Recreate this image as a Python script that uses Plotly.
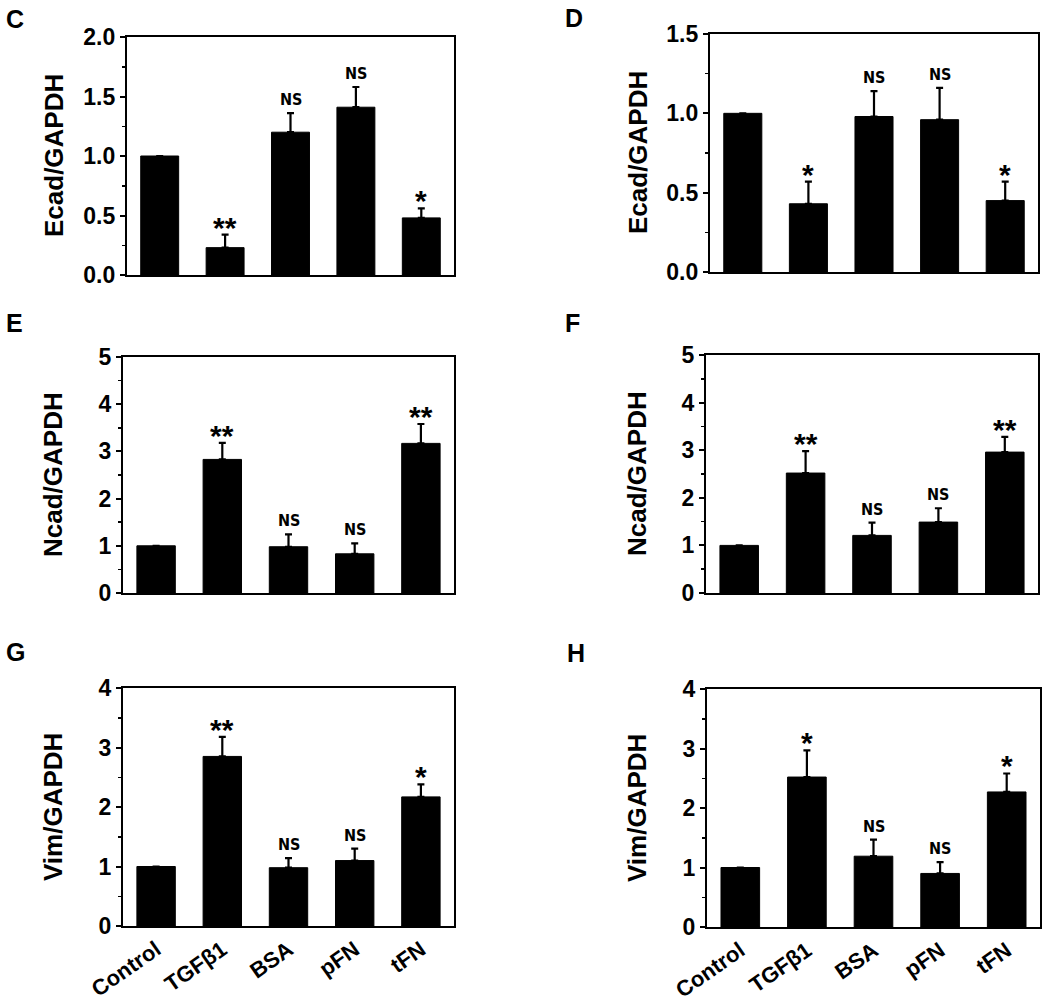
import plotly.graph_objects as go

W, H = 1050, 1003

categories = ["Control", "TGFβ1", "BSA", "pFN", "tFN"]

# Panel C: Ecad/GAPDH
c_vals = [1.00, 0.23, 1.20, 1.41, 0.48]
c_err = [0.00, 0.11, 0.16, 0.17, 0.08]
c_sig = ["", "**", "NS", "NS", "*"]
# Panel D: Ecad/GAPDH
d_vals = [1.00, 0.43, 0.98, 0.96, 0.45]
d_err = [0.00, 0.14, 0.16, 0.20, 0.12]
d_sig = ["", "*", "NS", "NS", "*"]
# Panel E: Ncad/GAPDH
e_vals = [1.00, 2.83, 0.98, 0.83, 3.17]
e_err = [0.00, 0.35, 0.26, 0.22, 0.41]
e_sig = ["", "**", "NS", "NS", "**"]
# Panel F: Ncad/GAPDH
f_vals = [1.00, 2.52, 1.21, 1.49, 2.96]
f_err = [0.00, 0.46, 0.27, 0.29, 0.32]
f_sig = ["", "**", "NS", "NS", "**"]
# Panel G: Vim/GAPDH
g_vals = [1.00, 2.85, 0.98, 1.10, 2.17]
g_err = [0.00, 0.33, 0.16, 0.20, 0.21]
g_sig = ["", "**", "NS", "NS", "*"]
# Panel H: Vim/GAPDH
h_vals = [1.00, 2.52, 1.19, 0.90, 2.27]
h_err = [0.00, 0.45, 0.28, 0.19, 0.31]
h_sig = ["", "*", "NS", "NS", "*"]

panels = [
    dict(letter="C", vals=c_vals, err=c_err, sig=c_sig, title="Ecad/GAPDH",
         ymax=2.0, dtick=0.5, minor=0.25, fmt=".1f",
         box=(127, 454, 37, 275), letter_pos=(4, 3), title_x=54, xlabels=False),
    dict(letter="D", vals=d_vals, err=d_err, sig=d_sig, title="Ecad/GAPDH",
         ymax=1.5, dtick=0.5, minor=0.25, fmt=".1f",
         box=(710, 1038, 34, 272), letter_pos=(563, 2), title_x=638, xlabels=False),
    dict(letter="E", vals=e_vals, err=e_err, sig=e_sig, title="Ncad/GAPDH",
         ymax=5, dtick=1, minor=0.5, fmt="d",
         box=(123, 454, 357, 593), letter_pos=(4, 307), title_x=53, xlabels=False),
    dict(letter="F", vals=f_vals, err=f_err, sig=f_sig, title="Ncad/GAPDH",
         ymax=5, dtick=1, minor=0.5, fmt="d",
         box=(706, 1038, 355, 593), letter_pos=(563, 307), title_x=637, xlabels=False),
    dict(letter="G", vals=g_vals, err=g_err, sig=g_sig, title="Vim/GAPDH",
         ymax=4, dtick=1, minor=0.5, fmt="d",
         box=(123, 454, 688, 926), letter_pos=(4, 636), title_x=53, xlabels=True),
    dict(letter="H", vals=h_vals, err=h_err, sig=h_sig, title="Vim/GAPDH",
         ymax=4, dtick=1, minor=0.5, fmt="d",
         box=(707, 1040, 689, 927), letter_pos=(565, 637), title_x=637, xlabels=True),
]

FONT = "Liberation Sans, Arial, sans-serif"

fig = go.Figure()
annotations = []
layout_axes = {}

for i, p in enumerate(panels):
    n = i + 1
    xa = "x" if n == 1 else f"x{n}"
    ya = "y" if n == 1 else f"y{n}"
    x0, x1, y0, y1 = p["box"]
    fig.add_trace(go.Bar(
        x=categories, y=p["vals"], xaxis=xa, yaxis=ya,
        marker=dict(color="black", line=dict(color="black", width=1)),
        error_y=dict(type="data", array=p["err"], arrayminus=[0] * 5,
                     symmetric=False, color="black", thickness=2.2, width=3.5,
                     visible=True),
        showlegend=False, hoverinfo="skip",
    ))
    xkey = "xaxis" if n == 1 else f"xaxis{n}"
    ykey = "yaxis" if n == 1 else f"yaxis{n}"
    layout_axes[xkey] = dict(
        domain=[x0 / W, x1 / W], anchor=ya, range=[-0.5, 4.5],
        automargin=False,
        showline=True, linecolor="black", linewidth=2.2, mirror=True,
        ticks="", showgrid=False, zeroline=False,
        showticklabels=p["xlabels"], tickangle=-35,
        tickfont=dict(family=FONT, size=22, color="black", weight="bold"),
    )
    layout_axes[ykey] = dict(
        domain=[1 - y1 / H, 1 - y0 / H], anchor=xa, range=[0, p["ymax"]],
        automargin=False,
        showline=True, linecolor="black", linewidth=2.2, mirror=True,
        ticks="outside", ticklen=5, tickwidth=2, tickcolor="black",
        dtick=p["dtick"], tick0=0, tickformat=p["fmt"],
        minor=dict(ticks="outside", ticklen=3, tickwidth=1.5, tickcolor="black",
                   dtick=p["minor"], tick0=0),
        showgrid=False, zeroline=False,
        tickfont=dict(family=FONT, size=23, color="black", weight="bold"),
    )
    # panel letter
    annotations.append(dict(
        text=p["letter"], x=p["letter_pos"][0] / W, y=1 - p["letter_pos"][1] / H,
        xref="paper", yref="paper", xanchor="left", yanchor="top",
        showarrow=False, font=dict(family=FONT, size=25, color="black", weight="bold"),
    ))
    # y-axis title
    annotations.append(dict(
        text=p["title"], x=p["title_x"] / W, y=1 - ((y0 + y1) / 2) / H,
        xref="paper", yref="paper", xanchor="center", yanchor="middle",
        textangle=-90, showarrow=False,
        font=dict(family=FONT, size=26, color="black", weight="bold"),
    ))
    # significance marks
    for cat, v, e, s in zip(categories, p["vals"], p["err"], p["sig"]):
        if not s:
            continue
        if s == "NS":
            font = dict(family="DejaVu Sans Condensed, DejaVu Sans, sans-serif",
                        size=16, color="black", weight="bold")
            shift = 2
        else:
            font = dict(family=FONT, size=30, color="black", weight="bold")
            shift = -11
        annotations.append(dict(
            text=s, x=cat, y=v + e, xref=xa, yref=ya,
            xanchor="center", yanchor="bottom", yshift=shift,
            showarrow=False, font=font,
        ))

fig.update_layout(
    template="none",
    width=W, height=H,
    margin=dict(l=0, r=0, t=0, b=0, pad=0, autoexpand=False),
    paper_bgcolor="white", plot_bgcolor="white",
    bargap=0.42, annotations=annotations, **layout_axes,
)

fig.write_html(
    "out.html",
    config={"displayModeBar": False, "staticPlot": True},
    post_script="document.body.style.margin='0';document.body.style.overflow='hidden';",
)
